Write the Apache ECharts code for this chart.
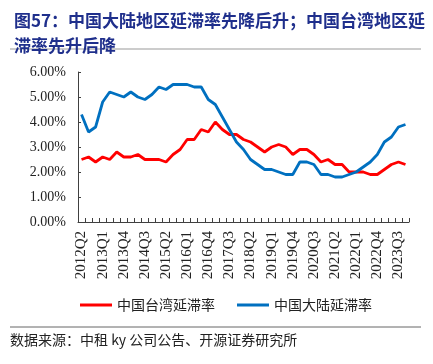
<!DOCTYPE html>
<html>
<head>
<meta charset="utf-8">
<script src="https://cdn.jsdelivr.net/npm/echarts@6/dist/echarts.min.js"></script>
<style>html,body{margin:0;padding:0;background:#fff;}#c{width:433px;height:364px;}</style>
</head>
<body>
<div id="c"></div>
<script>
var categories = (function(){
  var out = [];
  var y = 2012, q = 2;
  for (var i = 0; i < 47; i++) {
    out.push(y + 'Q' + q);
    q++; if (q > 4) { q = 1; y++; }
  }
  return out;
})();
var taiwanRate = [2.5,2.6,2.4,2.6,2.5,2.8,2.6,2.6,2.7,2.5,2.5,2.5,2.4,2.7,2.9,3.3,3.3,3.7,3.6,4.0,3.7,3.5,3.5,3.3,3.2,3.0,2.8,3.0,3.1,3.0,2.7,2.9,2.9,2.7,2.4,2.5,2.3,2.3,2.0,2.0,2.0,1.9,1.9,2.1,2.3,2.4,2.3];
var mainlandRate = [4.3,3.6,3.8,4.8,5.2,5.1,5.0,5.2,5.0,4.9,5.1,5.4,5.3,5.5,5.5,5.5,5.4,5.4,4.9,4.7,4.2,3.7,3.2,2.9,2.5,2.3,2.1,2.1,2.0,1.9,1.9,2.4,2.4,2.3,1.9,1.9,1.8,1.8,1.9,2.0,2.2,2.4,2.7,3.2,3.4,3.8,3.9];
var seriesNames = ['中国台湾延滞率','中国大陆延滞率'];
var titleText = '图57：中国大陆地区延滞率先降后升；中国台湾地区延\n滞率先升后降';
var sourceText = '数据来源：中租 ky 公司公告、开源证券研究所';

var chart = echarts.init(document.getElementById('c'), null, {renderer:'canvas'});
var serif = '"Liberation Serif","Times New Roman",serif';
var cjk = '"Noto Sans CJK SC","Noto Sans",sans-serif';
chart.setOption({
  animation:false,
  backgroundColor:'#fff',
  title:{
    text:titleText, left:9, top:3,
    textStyle:{fontFamily:cjk, fontSize:17, fontWeight:'bold', color:'#1f2f8c', lineHeight:25}
  },
  graphic:[
    {type:'line', shape:{x1:10,y1:49,x2:421,y2:49}, style:{stroke:'#999',lineWidth:1}},
    {type:'line', shape:{x1:10,y1:327,x2:421,y2:327}, style:{stroke:'#666',lineWidth:1}},
    {type:'text', left:10, top:333, style:{text:sourceText, font:'14px '+cjk, fill:'#222'}}
  ],
  legend:{
    left:75, top:293, itemWidth:32, itemHeight:3, itemGap:22, icon:'rect',
    textStyle:{fontFamily:cjk, fontSize:14, color:'#222', padding:[0,0,0,0]},
    data:seriesNames
  },
  grid:{left:78, right:24, top:72, bottom:142, containLabel:false},
  xAxis:{
    type:'category', data:categories, boundaryGap:true,
    axisLine:{lineStyle:{color:'#404040', width:1}},
    axisTick:{show:true, inside:true, length:4, interval:0, lineStyle:{color:'#404040'}},
    axisLabel:{interval:2, rotate:90, margin:9, fontFamily:serif, fontSize:15, color:'#222'},
    splitLine:{show:false}
  },
  yAxis:{
    type:'value', min:0, max:6, interval:1,
    axisLine:{show:true, lineStyle:{color:'#404040', width:1}},
    axisTick:{show:true, inside:true, length:3, lineStyle:{color:'#404040'}},
    axisLabel:{margin:12, fontFamily:serif, fontSize:14, color:'#222', formatter:function(v){return v.toFixed(2)+'%';}},
    splitLine:{show:false}
  },
  series:[
    {name:seriesNames[0], type:'line', data:taiwanRate, symbol:'none', lineStyle:{color:'#ff0000', width:2.8}, itemStyle:{color:'#ff0000'}},
    {name:seriesNames[1], type:'line', data:mainlandRate, symbol:'none', lineStyle:{color:'#0070c0', width:2.8}, itemStyle:{color:'#0070c0'}}
  ]
});
</script>
</body>
</html>
